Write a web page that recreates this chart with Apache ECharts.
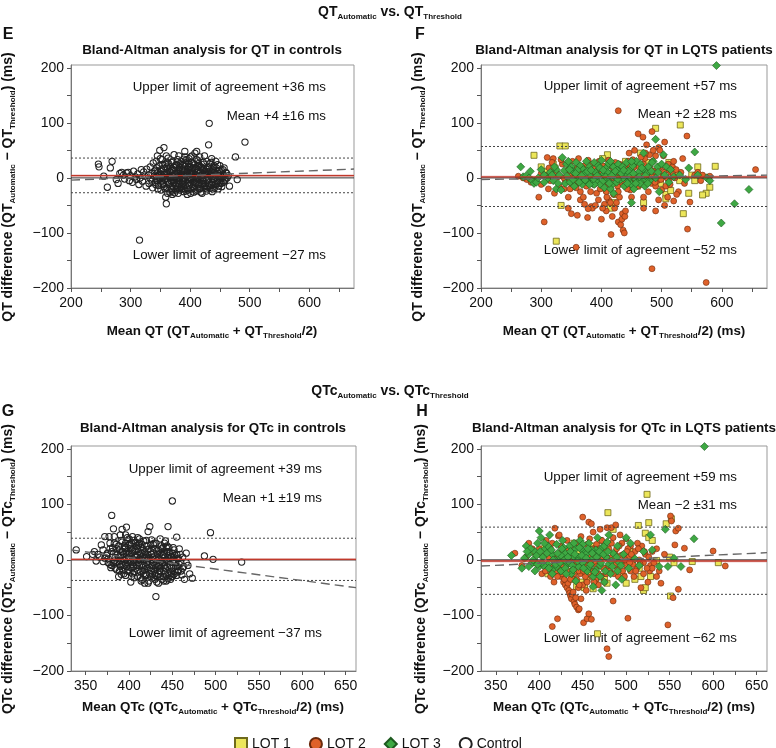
<!DOCTYPE html>
<html>
<head>
<meta charset="utf-8">
<script src="https://cdn.jsdelivr.net/npm/echarts@6/dist/echarts.min.js"></script>
<style>
html, body { margin: 0; padding: 0; background: #fff; }
#main { width: 776px; height: 748px; }
</style>
</head>
<body>
<div id="main"></div>
<script>
// axis ranges and ticks
const xRangeQT = [200, 675];
const xRangeQTc = [333, 662];
const yRange = [-200, 205];
const xLabelsQT = [200, 300, 400, 500, 600];
const xTicksQT = [200, 250, 300, 350, 400, 450, 500, 550, 600, 650];
const xLabelsQTc = [350, 400, 450, 500, 550, 600, 650];
const xTicksQTc = [350, 375, 400, 425, 450, 475, 500, 525, 550, 575, 600, 625, 650];
const yLabels = [-200, -100, 0, 100, 200];
const yTicks = [-200, -150, -100, -50, 0, 50, 100, 150, 200];

// limits of agreement: [upper, mean, lower]
const limE = [36, 4, -27];
const limF = [57, 2, -52];
const limG = [39, 1, -37];
const limH = [59, -2, -62];

// regression lines (dashed)
const regE = [[200, -4], [675, 16]];
const regF = [[200, -3], [675, 5]];
const regG = [[333, 18], [662, -50]];
const regH = [[333, -11], [662, 13]];

// E: QT controls  [mean, difference]
const ctrlQT = [[246,25],[247,20],[255,3],[261,-17],[266,18],[269,30],[276,-3],[279,-10],[282,8],[285,10],[288,5],[290,-2],[293,9],[296,10],[298,-5],[300,4],[303,-8],[305,12],[308,2],[310,-3],[312,7],[314,-12],[316,0],[318,15],[320,-6],[322,11],[324,3],[326,-15],[327,16],[315,-113],
[330,5],[331,-10],[333,20],[334,-2],[336,8],[337,-18],[338,27],[340,3],[341,-8],[342,14],[343,30],[344,-4],[345,40],[346,10],[347,-14],[348,22],[349,50],[350,0],[351,-22],[352,6],[353,33],[354,-9],[355,17],[356,55],[357,-3],[358,25],[359,-35],[360,-47],[360,9],[361,-19],[362,2],[363,36],[364,-12],[365,12],[366,-26],[367,20],[368,-5],[369,28],[370,4],[370,-30],[371,-15],[372,15],[373,42],[374,-8],[375,7],[376,-22],[377,24],[378,-2],[379,33],[380,10],[380,-28],[381,-11],[382,18],[383,1],[384,-18],[385,30],[386,6],[387,-6],[388,22],[389,-25],[390,13],[390,-1],[391,48],[392,-14],[393,27],[394,3],[395,-30],[396,16],[397,-9],[398,35],[399,8],[400,-20],[400,21],[401,0],[402,-4],[403,40],[404,11],[405,-16],[406,26],[407,-7],[408,45],[409,5],[410,-24],[410,17],[411,48],[412,-2],[413,31],[414,-12],[415,8],[416,38],[417,-19],[418,20],[419,1],[420,-28],[421,14],[422,-6],[423,25],[424,40],[425,-14],[426,9],[427,-24],[428,30],[429,3],[430,18],[431,60],[432,99],[432,-9],[433,26],[434,-18],[435,6],[436,35],[437,-25],[438,14],[439,-3],[440,22],[441,10],[442,-12],[443,2],[444,18],[445,-6],[446,24],[447,8],[448,-15],[449,13],[450,22],[451,-2],[452,-10],[454,5],[455,15],[456,-8],[457,3],[458,-5],[460,10],[462,0],[466,-15],[476,38],[479,-3],[492,65],
[375,0],[378,8],[382,-5],[385,3],[388,-10],[392,5],[395,12],[398,-3],[402,7],[405,-8],[408,2],[412,10],[415,-4],[418,4],[422,-10],[425,12],[428,-2],[430,6],[380,15],[385,-15],[390,25],[395,-18],[400,10],[405,18],[410,-10],[415,22],[420,5],[365,2],[368,14],[372,-8],[362,-6],[358,6],[355,-12],[352,16],[348,3],[345,-5],[340,12],[336,-6],[376,-14],[386,-20],[396,-22],[406,-26],[416,-20],[426,-18],[436,-12],[446,-5],[383,26],[393,32],[403,28],[413,20],[423,16],[433,12],[443,30],[453,0],[438,-20],[398,20],[388,14],[378,-20],[368,-18],[358,-20],[411,33],[401,38],[391,38],[381,40],[371,30],[361,28],
[342,-12],[344,18],[346,-20],[347,5],[349,-2],[351,12],[353,-6],[354,24],[356,-16],[357,10],[359,-1],[361,20],[362,-28],[363,7],[364,26],[366,-9],[367,1],[369,-21],[370,13],[371,-3],[373,19],[374,-27],[375,22],[377,-10],[378,29],[379,-16],[381,4],[382,-22],[383,12],[384,8],[386,-12],[387,16],[388,-2],[389,34],[391,-7],[392,21],[393,-24],[394,9],[396,-2],[397,26],[398,-14],[399,15],[401,-28],[402,14],[403,-12],[404,2],[406,8],[407,-18],[408,24],[409,-9],[411,0],[412,-22],[413,14],[414,26],[416,-8],[417,11],[418,-26],[419,19],[421,-4],[422,28],[423,-16],[424,6],[426,-10],[427,16],[428,-20],[429,11],[431,-4],[432,20],[433,-14],[434,4],[435,28],[437,2],[438,-8],[439,18],[441,-18],[442,6],[444,-10],[445,12],[447,-20],[448,4],[450,-8],[452,14],[453,-16],[455,6],[457,18],[459,-2],[461,8],[464,4],[350,35],[360,40],[370,-24],[380,-5],[390,-20],[400,0],[410,5],[420,-12],[430,-16],[440,-2]];

// F: QT LQTS patients
const lqt1QT = [[331,58],[340,58],[288,41],[325,-115],[333,-50],[490,90],[531,96],[589,21],[560,20],[578,1],[580,-17],[574,-28],[568,-31],[536,-65],[545,-28],[507,-30],[507,-38],[515,-23],[470,-45],[465,45],[410,42],[415,-55],[300,20],[310,12],[320,25],[323,18],[345,-5],[360,15],[380,-5],[395,25],[402,35],[420,-45],[425,-30],[440,30],[455,5],[460,-15],[475,28],[482,-8],[490,12],[498,-10],[512,28],[525,8],[530,-5],[550,5],[555,-5]];
const lqt2QT = [[428,122],[484,-165],[574,-190],[461,80],[469,74],[484,84],[495,55],[475,60],[542,76],[656,15],[305,-80],[296,-35],[358,-126],[350,-65],[360,-68],[365,-40],[370,-35],[377,-72],[383,-52],[385,-55],[372,-48],[400,-75],[405,-48],[408,-60],[412,-40],[416,-103],[418,-70],[422,-55],[425,-45],[428,-80],[432,-85],[434,-75],[435,-65],[436,-95],[438,-100],[439,-70],[440,-60],[445,-5],[420,-30],[430,-35],[448,-22],[470,-55],[478,-25],[490,-60],[505,-50],[520,-42],[543,-93],[547,-44],[555,5],[560,10],[565,-5],[568,5],[580,3],[500,-22],[510,-35],[512,-5],[515,10],[503,40],[497,50],[490,40],[485,30],[480,42],[473,45],[480,20],[465,10],[460,25],[455,-10],[450,5],[445,30],[440,20],[435,15],[430,25],[425,-10],[420,10],[415,-20],[410,20],[405,5],[400,-10],[395,15],[390,-5],[385,25],[380,0],[375,-15],[370,10],[365,-25],[360,20],[355,5],[350,-10],[345,15],[340,-5],[335,25],[330,-15],[325,10],[320,35],[315,-5],[312,-20],[308,5],[300,-12],[290,-5],[283,-8],[276,-3],[270,0],[262,3],[300,8],[310,37],[313,18],[318,28],[322,-28],[333,33],[338,-20],[345,-35],[352,30],[357,-12],[362,35],[367,-8],[372,22],[378,32],[382,-25],[387,10],[392,-28],[396,30],[402,22],[407,-22],[412,32],[418,0],[423,28],[427,-15],[433,-8],[438,5],[443,-20],[447,15],[452,33],[457,-5],[462,20],[467,-12],[472,35],[476,3],[483,-10],[488,12],[493,-5],[498,20],[502,5],[507,-15],[511,25],[518,20],[522,0],[528,-25],[532,10],[538,-10],[395,-40],[402,-55],[409,-35],[415,-45],[390,-50],[378,-56],[345,-55],[470,-35],[495,-40],[520,30],[505,65],[445,25],[455,50],[460,-15],[508,15],[525,-30],[535,35],[480,-5],[470,25],[490,-15],[450,-35],[430,0],[410,-8],[440,-12],[420,18],[398,8],[388,-12],[368,0],[358,-5],[348,8],[338,0],[328,2],
[405,12],[412,-12],[418,22],[425,2],[432,15],[437,-5],[442,10],[448,-8],[453,18],[458,0],[463,-5],[468,8],[473,-8],[478,10],[484,2],[489,-8],[494,15],[499,-3],[504,10],[509,0],[514,-12],[519,8],[524,15],[446,45],[466,38],[486,50],[428,-25],[408,-25],[398,-20],[388,18],[378,-8],[368,18],[358,-18],[348,-20]];
const lqt3QT = [[591,204],[490,70],[555,47],[645,-21],[621,-47],[599,-82],[450,-45],[420,-28],[266,20],[270,2],[275,4],[280,0],[285,-5],[288,-10],[292,-8],[300,15],[305,5],[310,-2],[315,10],[320,-5],[325,15],[330,5],[335,37],[340,-10],[342,25],[345,30],[348,-8],[350,20],[352,12],[355,-15],[358,28],[360,5],[362,-2],[365,22],[368,-12],[370,15],[372,8],[375,30],[378,-8],[380,20],[382,2],[385,-10],[388,28],[390,10],[392,-5],[395,22],[398,-12],[400,32],[402,5],[405,-18],[408,18],[410,-5],[412,26],[415,8],[418,-12],[420,20],[422,2],[425,-8],[428,25],[430,12],[432,-3],[435,20],[438,-15],[440,5],[442,28],[445,-5],[448,15],[450,-12],[452,22],[455,0],[458,30],[460,-8],[462,10],[465,25],[468,-3],[470,15],[472,-15],[475,8],[478,20],[480,-5],[483,12],[486,30],[490,0],[493,20],[496,-25],[500,25],[503,42],[505,5],[508,20],[512,-8],[515,15],[520,2],[530,5],[540,-3],[545,18],[560,5],[575,0],[580,-5],[325,-20],[333,-22],[338,13],[388,-12],[403,-5],[415,-20],[426,14],[436,0],[444,12],[454,-20],[464,-10],[474,-3],[484,28],[494,10],[410,10],[395,3],[380,-12],[370,-2],[360,14],[415,30],[450,30],[470,45],
[343,3],[347,15],[353,-3],[357,8],[363,-8],[367,4],[373,-4],[377,12],[383,14],[387,-2],[393,4],[397,18],[403,14],[407,2],[413,-10],[417,4],[423,12],[427,-2],[433,8],[437,14],[443,-10],[447,2],[453,8],[457,-10],[463,2],[467,18],[473,4],[477,-10],[282,12],[295,0],[305,-8],[318,5],[328,-10],[322,20]];

// G: QTc controls
const ctrlQTc = [[339,18],[351,6],[358,10],[364,10],[368,27],[370,18],[372,42],[374,8],[376,-5],[377,42],[378,20],[380,-10],[381,5],[380,80],[383,30],[384,-15],[385,12],[382,56],[387,-3],[388,25],[389,-20],[390,8],[391,35],[392,-8],[393,15],[394,-25],[392,55],[395,0],[396,22],[397,-12],[398,40],[397,59],[399,5],[400,-18],[401,28],[402,-5],[403,12],[404,-25],[405,35],[406,0],[407,18],[408,-15],[409,25],[410,-30],[410,8],[411,-5],[412,30],[413,-22],[414,12],[415,-35],[416,20],[417,-10],[418,5],[419,-28],[420,25],[421,-15],[422,0],[423,-38],[422,51],[425,15],[424,60],[426,-20],[427,5],[428,-32],[429,20],[430,-10],[431,30],[432,-40],[433,10],[434,-25],[431,-66],[435,2],[436,-15],[437,25],[438,-35],[439,8],[440,-20],[441,30],[442,-5],[443,-38],[444,15],[445,-25],[446,22],[445,60],[447,-10],[448,5],[449,-30],[450,12],[451,-15],[452,0],[450,106],[453,-20],[454,-5],[455,10],[456,-12],[457,3],[455,41],[458,-8],[460,-20],[462,5],[461,-27],[464,-35],[466,-5],[470,-25],[473,-33],[487,7],[494,49],[497,1],[530,-4],
[392,15],[395,25],[398,-5],[400,10],[402,20],[404,-8],[406,15],[408,5],[410,20],[412,-10],[414,0],[416,-20],[418,15],[420,-5],[422,10],[424,-25],[426,0],[428,12],[430,-25],[432,-8],[434,18],[436,-30],[438,5],[440,10],[442,-15],[444,-2],[385,-5],[388,5],[390,-12],[394,10],[397,2],[401,-22],[405,-12],[409,-2],[413,8],[417,-25],[421,5],[425,-30],[429,-18],[433,-12],[437,-2],[441,-10],[445,8],[449,-15],[380,15],[383,-2],[386,20],[389,-8],[393,-18],[396,30],[400,38],[403,-30],[407,30],[411,15],[415,28],[419,-12],[423,20],[427,-10],[431,-28],[435,-20],[439,22],[443,0],[447,-28],[451,5],[455,-28],[378,-8],[375,12],[372,3],[370,-3],[366,5],[362,-2],[360,15],[396,45],[404,42],[412,38],[420,35],[428,28],[436,38],[444,25],[452,18],[396,-28],[406,-32],[414,-38],[422,-42],[430,-35],[440,-38],[448,-35],[456,-22],[462,-15],[468,-10],[466,12],
[376,2],[378,30],[379,-14],[381,22],[382,-6],[384,4],[385,28],[386,-18],[387,10],[388,-30],[389,18],[390,-2],[391,-26],[392,32],[393,2],[394,-10],[395,20],[396,-6],[397,14],[398,-20],[399,26],[400,0],[401,12],[402,-14],[403,30],[404,16],[405,-2],[406,-22],[407,6],[408,32],[409,-10],[410,-18],[411,26],[412,2],[413,-32],[414,22],[415,-8],[416,6],[417,34],[418,-18],[419,10],[420,-26],[421,18],[422,-8],[423,4],[424,-14],[425,28],[426,10],[427,-26],[428,-4],[429,30],[430,2],[431,-14],[432,16],[433,-30],[434,4],[435,-10],[436,12],[437,-22],[438,20],[439,-6],[440,-30],[441,14],[442,-24],[443,22],[444,-12],[445,-34],[446,2],[447,14],[448,-22],[449,6],[450,-4],[451,22],[452,-26],[453,8],[454,-12],[456,2],[457,-20],[459,10],[460,-6],[463,-12],[383,42],[390,45],[402,-40],[410,40],[418,-42],[426,36],[434,-42],[442,34],[450,-30],[458,20]];

// H: QTc LQTS patients
const lqt1QTc = [[467,-133],[479,85],[524,118],[526,67],[514,62],[522,48],[526,40],[530,35],[546,65],[552,74],[551,-65],[550,5],[555,-5],[576,-3],[606,-5],[535,-1],[520,-55],[522,-50],[517,-30],[390,15],[395,-5],[405,20],[410,-25],[420,-20],[430,-10],[437,-35],[443,-48],[448,-40],[452,-50],[455,-35],[460,-22],[462,-52],[465,-40],[470,-30],[475,-35],[478,-42],[480,-15],[485,55],[490,-10],[497,-30],[500,-42],[505,15],[510,-35],[515,-15],[440,30],[460,25],[470,35],[455,-5],[445,15],[528,-30]];
const lqt2QTc = [[478,-160],[480,-174],[415,-120],[421,-106],[451,-113],[455,-106],[460,-107],[457,-97],[502,-105],[548,-117],[485,-74],[560,-53],[554,-68],[551,79],[552,70],[557,52],[556,27],[560,57],[567,21],[573,-18],[600,16],[614,-11],[540,-42],[525,-40],[517,-50],[528,-10],[372,12],[388,30],[393,-5],[418,57],[422,43],[450,77],[457,68],[460,65],[462,50],[470,55],[478,58],[483,58],[488,63],[495,30],[500,38],[505,25],
[425,-30],[428,-40],[430,-45],[432,-50],[434,-55],[435,-60],[436,-65],[437,-70],[438,-62],[440,-75],[441,-80],[443,-85],[445,-90],[446,-88],[448,-70],[442,-68],[439,-58],[433,-42],[429,-35],[445,-50],[450,-45],[455,-40],[460,-30],[465,-35],
[400,20],[405,-10],[410,15],[412,-20],[415,30],[418,-5],[420,10],[422,-15],[425,25],[427,5],[430,-20],[432,35],[435,0],[437,20],[440,-10],[442,30],[445,5],[447,-25],[450,15],[452,-5],[455,28],[457,-15],[460,8],[462,-20],[465,22],[467,0],[470,-10],[472,35],[475,10],[477,-25],[480,20],[482,-5],[485,40],[487,12],[490,-15],[492,25],[495,-5],[497,10],[500,-10],[502,20],[505,-20],[507,5],[510,15],[512,-15],[515,0],[518,25],[520,-5],[522,10],[527,-20],[530,15],[535,-30],[408,35],[413,-30],[423,45],[428,-12],[438,15],[443,-35],[448,42],[453,-30],[458,38],[463,12],[468,-25],[473,5],[478,-15],[483,30],[488,-8],[493,45],[498,-30],[503,5],[508,-8],[513,30],[396,10],[392,20],[385,5],[380,-10],[403,-25],[417,-40],[426,-25],[445,-20],[464,-5],[486,-25],[520,-25],[530,-15],[475,-40],[440,-25],[454,-55],[468,-45],[466,28],[433,18],[411,5],[419,-20],[449,-10],[459,-2],[479,3],[499,0],[509,-30],[535,20],
[403,8],[407,-20],[413,20],[416,-12],[421,-30],[424,12],[431,8],[434,-20],[436,-35],[439,10],[444,-8],[446,-45],[451,-20],[453,12],[456,-10],[461,20],[463,-40],[466,-12],[469,20],[471,-30],[474,-15],[476,15],[481,-20],[484,5],[489,20],[491,-30],[494,8],[496,-20],[501,15],[504,-5],[506,10],[511,-20],[514,20],[516,-8],[521,15],[524,-15],[526,5],[532,-5],[538,-20],[544,10]];
const lqt3QTc = [[590,204],[545,55],[528,45],[530,18],[548,-12],[563,-12],[578,38],[555,3],[368,8],[385,25],[400,52],[383,3],[388,10],[392,-5],[395,15],[398,30],[400,-12],[402,40],[404,5],[407,20],[410,-8],[412,45],[415,10],[417,-15],[420,28],[422,0],[425,-20],[427,35],[430,12],[432,-8],[435,25],[437,-25],[440,5],[442,20],[445,-12],[447,35],[450,-5],[452,15],[455,-20],[457,30],[460,0],[462,-30],[465,18],[467,40],[470,-10],[472,22],[475,-40],[477,5],[480,45],[482,-25],[485,12],[488,-45],[490,25],[492,-5],[495,-35],[497,10],[500,40],[503,-15],[505,30],[510,2],[515,-10],[520,15],[538,-12],[410,25],[420,-12],[430,-15],[440,30],[450,28],[460,18],[470,-30],[480,-8],[490,-20],[405,-10],[415,-25],[425,8],[435,-5],[445,5],[455,12],[465,-18],[475,25],[395,-20],[418,0],[428,22],[438,-10],[448,20],[458,-12],[468,8],[478,32],[442,-38],[462,-48],[472,-55],[483,-2],[388,-12],[380,-15],
[390,20],[393,0],[397,8],[401,15],[403,-5],[406,30],[409,12],[411,-15],[414,18],[416,0],[419,-8],[421,12],[424,-5],[426,20],[429,0],[431,-25],[433,5],[436,15],[439,-18],[441,10],[444,-2],[446,22],[449,8],[451,-15],[454,3],[456,20],[459,-8],[461,12],[464,-22],[466,5],[469,15],[471,-5],[474,10],[476,-20],[479,15],[484,-12],[489,5],[494,-10],[386,15],[398,-8]];

const FONT = '"Liberation Sans", Arial, Helvetica, sans-serif';
const INK = '#111';
function richSet(size) {
  return {
    b: { fill: INK, fontFamily: FONT, fontSize: size, fontWeight: 'bold', lineHeight: 18 },
    s: { fill: INK, fontFamily: FONT, fontSize: 8, fontWeight: 'bold', lineHeight: 10, verticalAlign: 'bottom' }
  };
}
const RICH_Y = richSet(14);
const RICH_X = richSet(13.4);

const grids = [
  { left: 71, top: 65, width: 283, height: 223 },
  { left: 481, top: 65, width: 286, height: 223 },
  { left: 71, top: 446, width: 285, height: 225 },
  { left: 481, top: 446, width: 286, height: 225 }
];

const minus = v => (v < 0 ? '\u2212' + (-v) : String(v));

function xAxis(i, range, ticks, labels) {
  return {
    type: 'value', gridIndex: i, min: range[0], max: range[1],
    axisLine: { onZero: false, lineStyle: { color: '#777', width: 1 } },
    axisTick: { customValues: ticks, length: 4, lineStyle: { color: '#555' } },
    axisLabel: { customValues: labels, color: INK, fontSize: 14, fontFamily: FONT, margin: 8, formatter: minus },
    splitLine: { show: false }
  };
}
function yAxis(i) {
  return {
    type: 'value', gridIndex: i, min: yRange[0], max: yRange[1],
    axisLine: { onZero: false, lineStyle: { color: '#777', width: 1 } },
    axisTick: { customValues: yTicks, length: 4, lineStyle: { color: '#555' } },
    axisLabel: { customValues: yLabels, color: INK, fontSize: 14, fontFamily: FONT, margin: 7, formatter: minus },
    splitLine: { show: false }
  };
}

function scatter(name, data, i, symbol, size, fill, stroke, bw) {
  return {
    name, type: 'scatter', xAxisIndex: i, yAxisIndex: i, data, symbol, symbolSize: size,
    itemStyle: { color: fill, borderColor: stroke, borderWidth: bw, opacity: 1 },
    silent: true, z: 2
  };
}
function seg(i, pts, color, width, type, z) {
  return {
    type: 'line', xAxisIndex: i, yAxisIndex: i, data: pts, symbol: 'none', silent: true,
    lineStyle: { color, width, type }, z: z || 5
  };
}

// reference lines of one panel: limits, zero, mean with band, regression
function refLines(i, range, lim, reg) {
  const L = (y) => [[range[0], y], [range[1], y]];
  const band = seg(i, L(lim[1]), '#c0392b', 1.3, 'solid', 6);
  band.markArea = {
    silent: true,
    itemStyle: { color: 'rgba(214,120,120,0.35)' },
    data: [[{ yAxis: lim[1] - 2.5 }, { yAxis: lim[1] + 2.5 }]]
  };
  return [
    seg(i, L(lim[0]), '#444', 1, [2, 2], 4),
    seg(i, L(lim[2]), '#444', 1, [2, 2], 4),
    seg(i, L(0), '#333', 1, 'solid', 5),
    band,
    seg(i, reg, '#666', 1.4, [9, 5], 7)
  ];
}

const series = [
  scatter('Control', ctrlQT, 0, 'circle', 6.3, 'rgba(255,255,255,0)', '#222', 1),
  ...refLines(0, xRangeQT, limE, regE),
  scatter('LQT 1', lqt1QT, 1, 'rect', 6, '#ece65a', '#6e6a1c', 0.8),
  scatter('LQT 2', lqt2QT, 1, 'circle', 6, '#df612a', '#6b2a0c', 0.6),
  scatter('LQT 3', lqt3QT, 1, 'diamond', 8, '#3ea843', '#1d5a1f', 0.6),
  ...refLines(1, xRangeQT, limF, regF),
  scatter('Control', ctrlQTc, 2, 'circle', 6.3, 'rgba(255,255,255,0)', '#222', 1),
  ...refLines(2, xRangeQTc, limG, regG),
  scatter('LQT 1', lqt1QTc, 3, 'rect', 6, '#ece65a', '#6e6a1c', 0.8),
  scatter('LQT 2', lqt2QTc, 3, 'circle', 6, '#df612a', '#6b2a0c', 0.6),
  scatter('LQT 3', lqt3QTc, 3, 'diamond', 8, '#3ea843', '#1d5a1f', 0.6),
  ...refLines(3, xRangeQTc, limH, regH)
];

function txt(x, y, text, o) {
  o = o || {};
  const style = {
    text, fill: INK, fontFamily: FONT, fontSize: o.size || 14,
    fontWeight: o.bold ? 'bold' : 'normal',
    align: o.align || 'center', verticalAlign: 'middle'
  };
  if (o.rich) style.rich = o.rich;
  return { type: 'text', x, y, rotation: o.rot || 0, silent: true, style };
}

const up = Math.PI / 2;
const graphic = [
  txt(390, 12, '{b|QT}{s|Automatic}{b| vs. QT}{s|Threshold}', { rich: RICH_Y }),
  txt(390, 391, '{b|QTc}{s|Automatic}{b| vs. QTc}{s|Threshold}', { rich: RICH_Y }),
  txt(8, 35, 'E', { bold: true, size: 16 }),
  txt(420, 35, 'F', { bold: true, size: 16 }),
  txt(8, 412, 'G', { bold: true, size: 16 }),
  txt(422, 412, 'H', { bold: true, size: 16 }),
  txt(212, 50, 'Bland-Altman analysis for QT in controls', { bold: true, size: 13.4 }),
  txt(624, 50, 'Bland-Altman analysis for QT in LQTS patients', { bold: true, size: 13.4 }),
  txt(213, 428, 'Bland-Altman analysis for QTc in controls', { bold: true, size: 13.4 }),
  txt(624, 428, 'Bland-Altman analysis for QTc in LQTS patients', { bold: true, size: 13.4 }),
  txt(8, 187, '{b|QT difference (QT}{s|Automatic}{b| \u2212 QT}{s|Threshold}{b|) (ms)}', { rich: RICH_Y, rot: up }),
  txt(418, 187, '{b|QT difference (QT}{s|Automatic}{b| \u2212 QT}{s|Threshold}{b|) (ms)}', { rich: RICH_Y, rot: up }),
  txt(8, 569, '{b|QTc difference (QTc}{s|Automatic}{b| \u2212 QTc}{s|Threshold}{b|) (ms)}', { rich: RICH_Y, rot: up }),
  txt(421, 569, '{b|QTc difference (QTc}{s|Automatic}{b| \u2212 QTc}{s|Threshold}{b|) (ms)}', { rich: RICH_Y, rot: up }),
  txt(212, 331, '{b|Mean QT (QT}{s|Automatic}{b| + QT}{s|Threshold}{b|/2)}', { rich: RICH_X }),
  txt(624, 331, '{b|Mean QT (QT}{s|Automatic}{b| + QT}{s|Threshold}{b|/2) (ms)}', { rich: RICH_X }),
  txt(213, 707, '{b|Mean QTc (QTc}{s|Automatic}{b| + QTc}{s|Threshold}{b|/2) (ms)}', { rich: RICH_X }),
  txt(624, 707, '{b|Mean QTc (QTc}{s|Automatic}{b| + QTc}{s|Threshold}{b|/2) (ms)}', { rich: RICH_X }),
  txt(326, 87, 'Upper limit of agreement +36 ms', { align: 'right', size: 13.3 }),
  txt(326, 116, 'Mean +4 \u00b116 ms', { align: 'right', size: 13.3 }),
  txt(326, 255, 'Lower limit of agreement \u221227 ms', { align: 'right', size: 13.3 }),
  txt(737, 86, 'Upper limit of agreement +57 ms', { align: 'right', size: 13.3 }),
  txt(737, 114, 'Mean +2 \u00b128 ms', { align: 'right', size: 13.3 }),
  txt(737, 250, 'Lower limit of agreement \u221252 ms', { align: 'right', size: 13.3 }),
  txt(322, 469, 'Upper limit of agreement +39 ms', { align: 'right', size: 13.3 }),
  txt(322, 498, 'Mean +1 \u00b119 ms', { align: 'right', size: 13.3 }),
  txt(322, 633, 'Lower limit of agreement \u221237 ms', { align: 'right', size: 13.3 }),
  txt(737, 477, 'Upper limit of agreement +59 ms', { align: 'right', size: 13.3 }),
  txt(737, 505, 'Mean \u22122 \u00b131 ms', { align: 'right', size: 13.3 }),
  txt(737, 638, 'Lower limit of agreement \u221262 ms', { align: 'right', size: 13.3 })
];

const chart = echarts.init(document.getElementById('main'), null, { renderer: 'canvas' });
chart.setOption({
  animation: false,
  backgroundColor: '#fff',
  grid: grids.map(g => Object.assign({ show: true, borderColor: '#999', borderWidth: 1, backgroundColor: 'transparent' }, g)),
  xAxis: [
    xAxis(0, xRangeQT, xTicksQT, xLabelsQT),
    xAxis(1, xRangeQT, xTicksQT, xLabelsQT),
    xAxis(2, xRangeQTc, xTicksQTc, xLabelsQTc),
    xAxis(3, xRangeQTc, xTicksQTc, xLabelsQTc)
  ],
  yAxis: [yAxis(0), yAxis(1), yAxis(2), yAxis(3)],
  legend: {
    data: ['LQT 1', 'LQT 2', 'LQT 3', 'Control'],
    left: 229, top: 732, itemWidth: 12, itemHeight: 12, itemGap: 18,
    selectedMode: false,
    textStyle: { color: INK, fontSize: 14, fontFamily: FONT }
  },
  graphic,
  series
});
</script>
</body>
</html>
